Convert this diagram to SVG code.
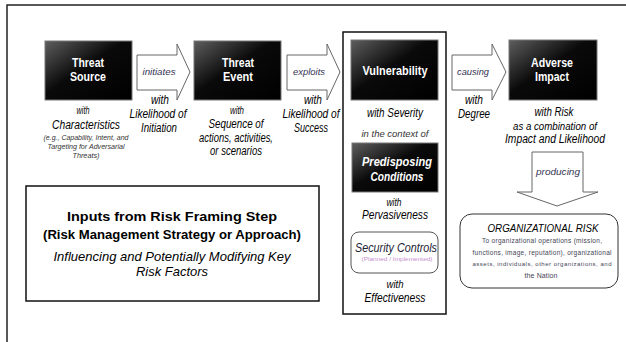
<svg xmlns="http://www.w3.org/2000/svg" width="626" height="342" viewBox="0 0 626 342">
<defs>
<linearGradient id="blk" x1="0" y1="0" x2="1" y2="1">
<stop offset="0" stop-color="#5e5e5e"/>
<stop offset="0.45" stop-color="#0a0a0a"/>
<stop offset="1" stop-color="#000"/>
</linearGradient>
<style>
text{font-family:"Liberation Sans",Arial,sans-serif;text-anchor:middle;fill:#000}
.box{fill:url(#blk);stroke:#777;stroke-width:1}
.bt{fill:#fff;font-weight:bold;font-size:13px}
.bti{fill:#fff;font-weight:bold;font-style:italic;font-size:13px}
.it{font-style:italic;font-size:12px}
.sm{font-style:italic;font-size:9px;fill:#333}
.tiny{font-size:6.5px;fill:#445}
.arr{fill:#fff;stroke:#666;stroke-width:1}
.al{font-style:italic;font-size:9px;fill:#335}
</style>
</defs>
<rect width="626" height="342" fill="#fff"/>
<g id="frame" fill="none" stroke="#222" stroke-width="1.5">
<path d="M7,342 V5 H626"/>
</g>
<g id="connectors">
<g id="c-initiates">
<polygon class="arr" points="137,55 177,55 177,44 190,72 177,100 177,90 137,90"/>
<text class="al" x="159" y="75" textLength="33" lengthAdjust="spacingAndGlyphs">initiates</text>
</g>
<g id="c-exploits">
<polygon class="arr" points="287,55 327,55 327,44 340,72 327,100 327,90 287,90"/>
<text class="al" x="309" y="75" textLength="32" lengthAdjust="spacingAndGlyphs">exploits</text>
</g>
<g id="c-causing">
<polygon class="arr" points="452,55 492,55 492,44 506,72 492,100 492,90 452,90"/>
<text class="al" x="473" y="75" textLength="32" lengthAdjust="spacingAndGlyphs">causing</text>
</g>
<g id="c-producing">
<polygon class="arr" points="532,152 583,152 583,192 598,192 557,206 517,192 532,192"/>
<text class="al" x="558" y="175" textLength="44" lengthAdjust="spacingAndGlyphs">producing</text>
</g>
<g id="c-labels">
<text class="it" x="160" y="104" textLength="18" lengthAdjust="spacingAndGlyphs">with</text>
<text class="it" x="158" y="118" textLength="57" lengthAdjust="spacingAndGlyphs">Likelihood of</text>
<text class="it" x="159" y="132" textLength="36" lengthAdjust="spacingAndGlyphs">Initiation</text>
<text class="it" x="313" y="104" textLength="18" lengthAdjust="spacingAndGlyphs">with</text>
<text class="it" x="311" y="118" textLength="57" lengthAdjust="spacingAndGlyphs">Likelihood of</text>
<text class="it" x="311" y="132" textLength="34" lengthAdjust="spacingAndGlyphs">Success</text>
<text class="it" x="474" y="104" textLength="18" lengthAdjust="spacingAndGlyphs">with</text>
<text class="it" x="474" y="118" textLength="32" lengthAdjust="spacingAndGlyphs">Degree</text>
</g>
</g>
<g id="threat-source">
<rect class="box" x="45" y="41" width="87" height="59"/>
<text class="bt" x="88" y="67" textLength="32" lengthAdjust="spacingAndGlyphs">Threat</text>
<text class="bt" x="88" y="81" textLength="36" lengthAdjust="spacingAndGlyphs">Source</text>
<text class="it" x="83" y="114" textLength="13" lengthAdjust="spacingAndGlyphs" style="font-size:10px">with</text>
<text class="it" x="86" y="129" textLength="68" lengthAdjust="spacingAndGlyphs">Characteristics</text>
<text class="sm" x="86" y="140" textLength="85" lengthAdjust="spacingAndGlyphs" style="font-size:7.5px">(e.g., Capability, Intent, and</text>
<text class="sm" x="86" y="149" textLength="77" lengthAdjust="spacingAndGlyphs" style="font-size:7.5px">Targeting for Adversarial</text>
<text class="sm" x="86" y="158" textLength="27" lengthAdjust="spacingAndGlyphs" style="font-size:7.5px">Threats)</text>
</g>
<g id="threat-event">
<rect class="box" x="194" y="41" width="87" height="59"/>
<text class="bt" x="238" y="67" textLength="32" lengthAdjust="spacingAndGlyphs">Threat</text>
<text class="bt" x="238" y="81" textLength="30" lengthAdjust="spacingAndGlyphs">Event</text>
<text class="it" x="237" y="114" textLength="14" lengthAdjust="spacingAndGlyphs" style="font-size:10px">with</text>
<text class="it" x="236" y="128" textLength="55" lengthAdjust="spacingAndGlyphs">Sequence of</text>
<text class="it" x="236" y="142" textLength="74" lengthAdjust="spacingAndGlyphs">actions, activities,</text>
<text class="it" x="236" y="155" textLength="52" lengthAdjust="spacingAndGlyphs">or scenarios</text>
</g>
<g id="vulnerability-group">
<rect x="343" y="32" width="103" height="282" fill="none" stroke="#111" stroke-width="1.5"/>
<g id="vulnerability">
<rect class="box" x="351" y="40" width="87" height="60"/>
<text class="bt" x="395" y="75" textLength="65" lengthAdjust="spacingAndGlyphs">Vulnerability</text>
<text class="it" x="395" y="117" textLength="56" lengthAdjust="spacingAndGlyphs">with Severity</text>
<text class="sm" x="395" y="137" textLength="67" lengthAdjust="spacingAndGlyphs">in the context of</text>
</g>
<g id="predisposing-conditions">
<rect class="box" x="352" y="143" width="86" height="49"/>
<text class="bti" x="397" y="166" textLength="70" lengthAdjust="spacingAndGlyphs">Predisposing</text>
<text class="bti" x="397" y="181" textLength="53" lengthAdjust="spacingAndGlyphs">Conditions</text>
<text class="it" x="394" y="206" textLength="15" lengthAdjust="spacingAndGlyphs" style="font-size:10px">with</text>
<text class="it" x="395" y="219" textLength="66" lengthAdjust="spacingAndGlyphs">Pervasiveness</text>
</g>
<g id="security-controls">
<rect x="351" y="232" width="87" height="41" rx="8" fill="#fff" stroke="#555" stroke-width="1"/>
<text class="it" x="396" y="252" textLength="82" lengthAdjust="spacingAndGlyphs" style="font-size:13px;fill:#223">Security Controls</text>
<text x="397" y="261" textLength="71" lengthAdjust="spacingAndGlyphs" style="font-size:6px;fill:#c58fd0">(Planned / Implemented)</text>
<text class="it" x="395" y="288" textLength="17" lengthAdjust="spacingAndGlyphs" style="font-size:10px">with</text>
<text class="it" x="395" y="302" textLength="61" lengthAdjust="spacingAndGlyphs">Effectiveness</text>
</g>
</g>
<g id="adverse-impact">
<rect class="box" x="509" y="40" width="88" height="60"/>
<text class="bt" x="552" y="67" textLength="42" lengthAdjust="spacingAndGlyphs">Adverse</text>
<text class="bt" x="552" y="81" textLength="34" lengthAdjust="spacingAndGlyphs">Impact</text>
<text class="it" x="554" y="116" textLength="39" lengthAdjust="spacingAndGlyphs">with Risk</text>
<text class="it" x="555" y="130" textLength="84" lengthAdjust="spacingAndGlyphs" style="font-size:11px">as a combination of</text>
<text class="it" x="555" y="143" textLength="100" lengthAdjust="spacingAndGlyphs">Impact and Likelihood</text>
</g>
<g id="organizational-risk">
<rect x="460" y="214" width="158" height="74" rx="12" fill="#fff" stroke="#333" stroke-width="1"/>
<text class="it" x="543" y="232" textLength="111" lengthAdjust="spacingAndGlyphs" style="font-size:10.5px">ORGANIZATIONAL RISK</text>
<text class="tiny" x="542" y="243" textLength="120">To organizational operations (mission,</text>
<text class="tiny" x="542" y="255" textLength="139">functions, image, reputation), organizational</text>
<text class="tiny" x="542" y="266" textLength="139" style="font-size:6px">assets, individuals, other organizations, and</text>
<text class="tiny" x="541" y="278" textLength="33" style="font-size:7px">the Nation</text>
</g>
<g id="risk-framing-inputs">
<rect x="26" y="186" width="293" height="115" fill="#fff" stroke="#111" stroke-width="1.5"/>
<text x="172" y="221" textLength="210" lengthAdjust="spacingAndGlyphs" style="font-weight:bold;font-size:13px">Inputs from Risk Framing Step</text>
<text x="172" y="239" textLength="258" lengthAdjust="spacingAndGlyphs" style="font-weight:bold;font-size:13px">(Risk Management Strategy or Approach)</text>
<text x="172" y="261" textLength="237" lengthAdjust="spacingAndGlyphs" style="font-style:italic;font-size:13px">Influencing and Potentially Modifying Key</text>
<text x="172" y="276" style="font-style:italic;font-size:13px" textLength="72" lengthAdjust="spacingAndGlyphs">Risk Factors</text>
</g>
</svg>
